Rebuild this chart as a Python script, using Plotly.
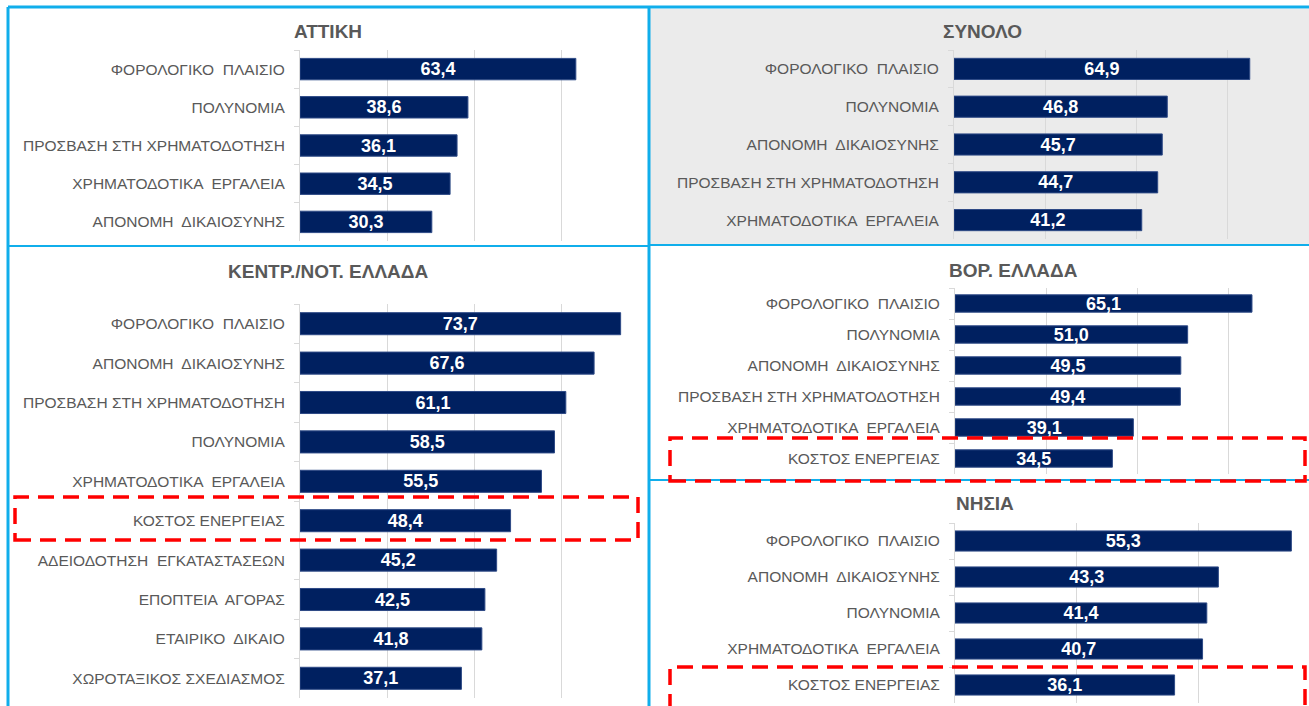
import plotly.graph_objects as go

W, H = 1309, 706

# ---------------- data ----------------
attiki_cats = ["ΦΟΡΟΛΟΓΙΚΟ  ΠΛΑΙΣΙΟ", "ΠΟΛΥΝΟΜΙΑ", "ΠΡΟΣΒΑΣΗ ΣΤΗ ΧΡΗΜΑΤΟΔΟΤΗΣΗ",
               "ΧΡΗΜΑΤΟΔΟΤΙΚΑ  ΕΡΓΑΛΕΙΑ", "ΑΠΟΝΟΜΗ  ΔΙΚΑΙΟΣΥΝΗΣ"]
attiki_vals = [63.4, 38.6, 36.1, 34.5, 30.3]

synolo_cats = ["ΦΟΡΟΛΟΓΙΚΟ  ΠΛΑΙΣΙΟ", "ΠΟΛΥΝΟΜΙΑ", "ΑΠΟΝΟΜΗ  ΔΙΚΑΙΟΣΥΝΗΣ",
               "ΠΡΟΣΒΑΣΗ ΣΤΗ ΧΡΗΜΑΤΟΔΟΤΗΣΗ", "ΧΡΗΜΑΤΟΔΟΤΙΚΑ  ΕΡΓΑΛΕΙΑ"]
synolo_vals = [64.9, 46.8, 45.7, 44.7, 41.2]

kentr_cats = ["ΦΟΡΟΛΟΓΙΚΟ  ΠΛΑΙΣΙΟ", "ΑΠΟΝΟΜΗ  ΔΙΚΑΙΟΣΥΝΗΣ", "ΠΡΟΣΒΑΣΗ ΣΤΗ ΧΡΗΜΑΤΟΔΟΤΗΣΗ",
              "ΠΟΛΥΝΟΜΙΑ", "ΧΡΗΜΑΤΟΔΟΤΙΚΑ  ΕΡΓΑΛΕΙΑ", "ΚΟΣΤΟΣ ΕΝΕΡΓΕΙΑΣ",
              "ΑΔΕΙΟΔΟΤΗΣΗ  ΕΓΚΑΤΑΣΤΑΣΕΩΝ", "ΕΠΟΠΤΕΙΑ  ΑΓΟΡΑΣ", "ΕΤΑΙΡΙΚΟ  ΔΙΚΑΙΟ",
              "ΧΩΡΟΤΑΞΙΚΟΣ ΣΧΕΔΙΑΣΜΟΣ"]
kentr_vals = [73.7, 67.6, 61.1, 58.5, 55.5, 48.4, 45.2, 42.5, 41.8, 37.1]

vor_cats = ["ΦΟΡΟΛΟΓΙΚΟ  ΠΛΑΙΣΙΟ", "ΠΟΛΥΝΟΜΙΑ", "ΑΠΟΝΟΜΗ  ΔΙΚΑΙΟΣΥΝΗΣ",
            "ΠΡΟΣΒΑΣΗ ΣΤΗ ΧΡΗΜΑΤΟΔΟΤΗΣΗ", "ΧΡΗΜΑΤΟΔΟΤΙΚΑ  ΕΡΓΑΛΕΙΑ", "ΚΟΣΤΟΣ ΕΝΕΡΓΕΙΑΣ"]
vor_vals = [65.1, 51.0, 49.5, 49.4, 39.1, 34.5]

nisia_cats = ["ΦΟΡΟΛΟΓΙΚΟ  ΠΛΑΙΣΙΟ", "ΑΠΟΝΟΜΗ  ΔΙΚΑΙΟΣΥΝΗΣ", "ΠΟΛΥΝΟΜΙΑ",
              "ΧΡΗΜΑΤΟΔΟΤΙΚΑ  ΕΡΓΑΛΕΙΑ", "ΚΟΣΤΟΣ ΕΝΕΡΓΕΙΑΣ"]
nisia_vals = [55.3, 43.3, 41.4, 40.7, 36.1]

titles = ["ΑΤΤΙΚΗ", "ΣΥΝΟΛΟ", "ΚΕΝΤΡ./ΝΟΤ. ΕΛΛΑΔΑ", "ΒΟΡ. ΕΛΛΑΔΑ", "ΝΗΣΙΑ"]

# ---------------- styles / layout geometry (pixels) ----------------
BAR = "#002060"
BAR_EDGE = "#2E4A86"
GRID = "#D9D9D9"
LABEL = "#595959"
BLUE = "#10AEEB"
RED = "#FF0000"
FONT = "Liberation Sans"


def fx(px):
    return px / W


def fy(py):
    return 1 - py / H


# (x0, x1, y_top, y_bottom, xmax)
panels = [
    (attiki_cats, attiki_vals, (300, 645, 50, 241, 79.3)),
    (synolo_cats, synolo_vals, (954, 1309, 50, 239, 77.9)),
    (kentr_cats, kentr_vals, (300, 645, 304, 698, 79.3)),
    (vor_cats, vor_vals, (955, 1309, 288, 474, 77.6)),
    (nisia_cats, nisia_vals, (955, 1309, 523, 703, 58.2)),
]
title_pos = [(328, 31), (983, 31), (328, 271), (1013, 270), (985, 504)]

fig = go.Figure()
layout = dict(
    width=W, height=H, margin=dict(l=0, r=0, t=0, b=0),
    paper_bgcolor="white", plot_bgcolor="rgba(0,0,0,0)",
    separators=",.", showlegend=False,
    font=dict(family=FONT, color=LABEL),
)

for i, (cats, vals, (x0, x1, yt, yb, xmax)) in enumerate(panels):
    n = "" if i == 0 else str(i + 1)
    fig.add_trace(go.Bar(
        x=vals, y=cats, orientation="h",
        xaxis="x" + n, yaxis="y" + n,
        marker=dict(color=BAR, line=dict(color=BAR_EDGE, width=1)),
        width=0.56,
        texttemplate="%{x:.1f}", textposition="inside",
        insidetextanchor="middle", textangle=0, constraintext="none",
        textfont=dict(family=FONT, size=18, color="white", weight="bold"),
        hoverinfo="skip",
    ))
    layout["xaxis" + n] = dict(
        domain=[fx(x0), fx(x1)], range=[0, xmax], anchor="y" + n,
        dtick=20, tick0=0, showgrid=True, gridcolor=GRID, gridwidth=1,
        showticklabels=False, zeroline=False, showline=False, fixedrange=True,
    )
    layout["yaxis" + n] = dict(
        domain=[fy(yb), fy(yt)], anchor="x" + n, type="category",
        autorange="reversed", showline=True, linecolor=GRID, linewidth=1,
        ticks="outside", tickson="boundaries", ticklen=5, tickcolor=GRID,
        ticklabelstandoff=11,
        tickfont=dict(family=FONT, size=15.5, color=LABEL),
        showgrid=False, fixedrange=True,
    )

fig.update_layout(**layout)

# titles
for t, (tx, ty) in zip(titles, title_pos):
    fig.add_annotation(
        text=t, x=fx(tx), y=fy(ty), xref="paper", yref="paper",
        showarrow=False, xanchor="center", yanchor="middle",
        font=dict(family=FONT, size=19, color=LABEL, weight="bold"),
    )

# grey background of the total panel
fig.add_shape(type="rect", xref="paper", yref="paper",
              x0=fx(650), x1=fx(1309), y0=fy(244), y1=fy(9),
              fillcolor="#EBEBEB", line=dict(width=0), layer="below")

# panel borders
borders = [
    ((8, 7), (1309, 7), 3),
    ((8, 7), (8, 706), 3),
    ((649, 7), (649, 706), 3),
    ((8, 246), (649, 246), 2),
    ((649, 245), (1309, 245), 2),
    ((649, 480), (1309, 480), 2),
]
for (ax, ay), (bx, by), w in borders:
    fig.add_shape(type="line", xref="paper", yref="paper",
                  x0=fx(ax), y0=fy(ay), x1=fx(bx), y1=fy(by),
                  line=dict(color=BLUE, width=w))

# red dashed highlight boxes
boxes = [(15, 497, 638, 540), (670, 438, 1305, 481), (670, 667, 1305, 720)]
for bx0, by0, bx1, by1 in boxes:
    fig.add_shape(type="rect", xref="paper", yref="paper",
                  x0=fx(bx0), x1=fx(bx1), y0=fy(by1), y1=fy(by0),
                  line=dict(color=RED, width=3.5, dash="16px,9px"),
                  fillcolor="rgba(0,0,0,0)")

fig.write_html("out.html", config={"displayModeBar": False},
               post_script="document.body.style.margin='0';document.body.style.overflow='hidden';")
